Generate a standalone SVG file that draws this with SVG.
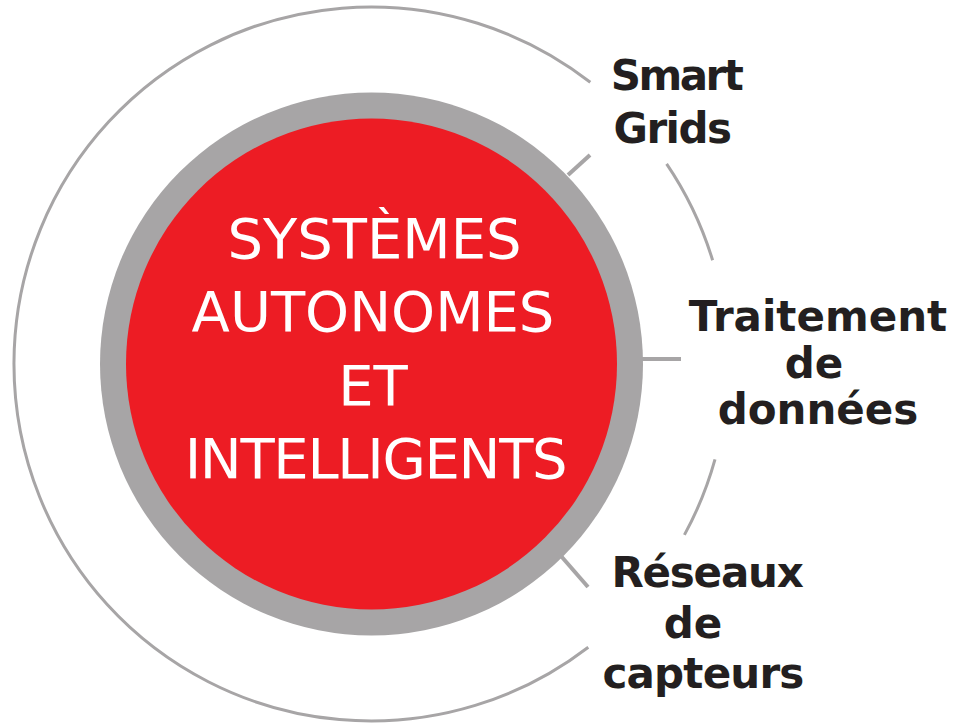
<svg xmlns="http://www.w3.org/2000/svg" width="956" height="724" viewBox="0 0 956 724">
<style>
.outer{fill:none;stroke:#a7a5a6;stroke-width:3}
.conn{stroke:#a7a5a6;stroke-width:4;fill:none}
.center{font-family:"DejaVu Sans",Verdana,sans-serif;font-size:56px;fill:#ffffff;text-anchor:middle}
.lab{font-family:"DejaVu Sans",Verdana,sans-serif;font-weight:bold;font-size:42px;fill:#231f20;text-anchor:middle}
</style>
<rect width="956" height="724" fill="#ffffff"/>
<g id="outer-ring">
<path class="outer" d="M588.3,647.2 A357,357 0 1 1 590.3,82.3"/>
<path class="outer" d="M666.6,163.8 A357,357 0 0 1 712.6,260.2"/>
<path class="outer" d="M715.0,459.4 A357,357 0 0 1 684.4,534.9"/>
</g>
<g id="connectors">
<line class="conn" x1="568" y1="175" x2="590" y2="155"/>
<line class="conn" x1="640" y1="359" x2="681" y2="359"/>
<line class="conn" x1="561" y1="556" x2="588" y2="587"/>
</g>
<g id="center-node">
<circle cx="371.5" cy="364" r="271.5" fill="#a7a5a6"/>
<circle cx="371.5" cy="364" r="245.5" fill="#ed1c24"/>
<text class="center" x="374.5" y="258">SYSTÈMES</text>
<text class="center" x="373" y="331">AUTONOMES</text>
<text class="center" x="373" y="405">ET</text>
<text class="center" x="375.5" y="478" letter-spacing="-1.3">INTELLIGENTS</text>
</g>
<g id="smart-grids">
<text class="lab" x="676" y="90" letter-spacing="-2.5">Smart</text>
<text class="lab" x="672" y="143" letter-spacing="-1.5">Grids</text>
</g>
<g id="traitement">
<text class="lab" x="818" y="331">Traitement</text>
<text class="lab" x="814" y="378">de</text>
<text class="lab" x="818" y="424">données</text>
</g>
<g id="reseaux">
<text class="lab" x="707" y="587" letter-spacing="-1.2">Réseaux</text>
<text class="lab" x="693" y="638">de</text>
<text class="lab" x="703" y="688" letter-spacing="-0.8">capteurs</text>
</g>
</svg>
